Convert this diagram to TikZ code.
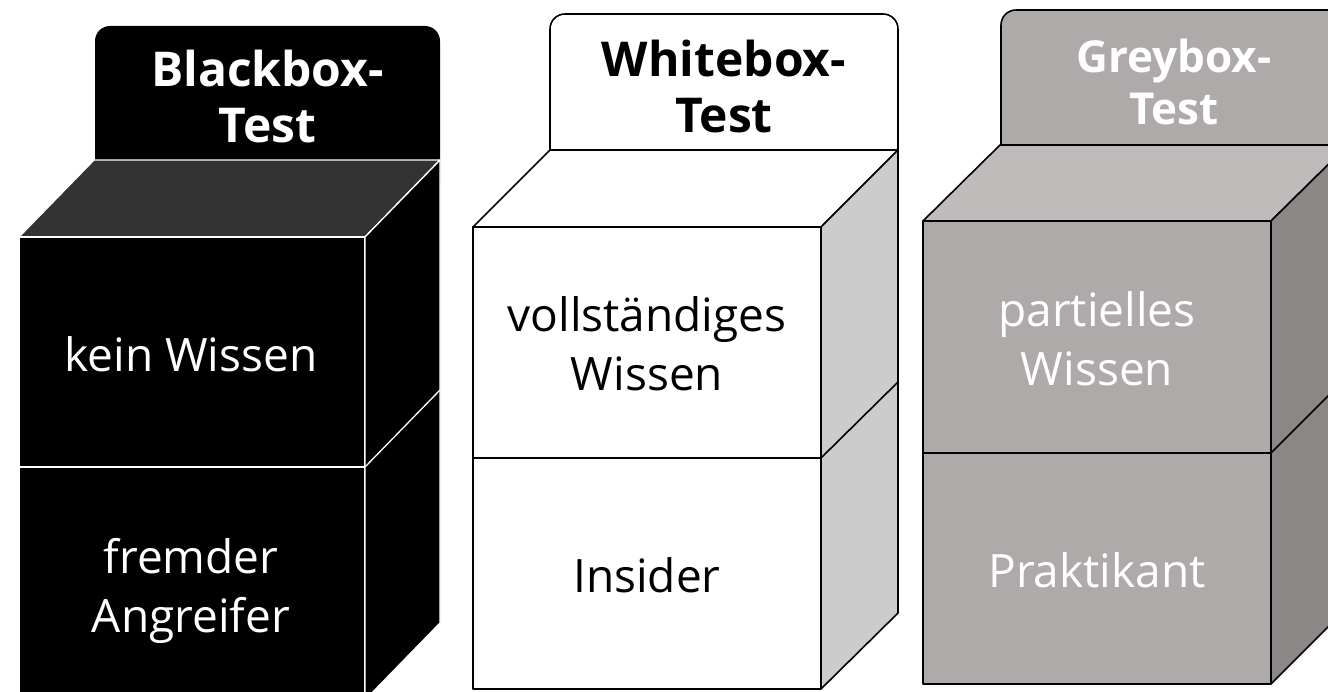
\documentclass[tikz,border=0pt]{standalone}
\usepackage{fontspec}
\setmainfont{Open Sans}
\definecolor{bktop}{HTML}{333333}
\definecolor{whside}{HTML}{CCCCCC}
\definecolor{grfront}{HTML}{AEAAA9}
\definecolor{grtop}{HTML}{BFBBBA}
\definecolor{grside}{HTML}{8B8786}
\begin{document}
\begin{tikzpicture}[x=1pt,y=-1pt,
  bodytext/.style={font=\fontsize{46}{59}\selectfont, align=center, inner sep=0pt},
  headtext/.style={font=\fontsize{48}{56}\selectfont\bfseries, align=center, inner sep=0pt},
  greyhead/.style={font=\fontsize{44}{52}\selectfont\bfseries, align=center, inner sep=0pt},
  bkline/.style={draw=white, line width=1.3pt, line join=round},
  wline/.style={draw=black, line width=1.6pt, line join=round},
  hdr/.style={rounded corners=15pt}]
\useasboundingbox (0,0) rectangle (1328,692);
\clip (0,0) rectangle (1328,692);

% ---------- Blackbox cube ----------
\fill[black, hdr] (95,26) rectangle (440,200);
\filldraw[fill=bktop, bkline] (19,237) -- (94,160) -- (440,160) -- (365,237) -- cycle;
\filldraw[fill=black, bkline] (19,237) rectangle (365,467);
\filldraw[fill=black, bkline] (19,467) rectangle (365,700);
\filldraw[fill=black, bkline] (365,237) -- (440,160) -- (440,623) -- (365,700) -- cycle;
\draw[bkline] (365,467) -- (440,390);
\node[headtext, text=white] (bhead) at (267.5,97) {Blackbox-\\Test};
\node[bodytext, text=white] (bup) at (191,354.5) {kein Wissen};
\node[bodytext, text=white] (blow) at (191,590.5) {fremder\\Angreifer};

% ---------- Whitebox cube ----------
\filldraw[fill=white, wline, hdr] (550,14) rectangle (898,190);
\filldraw[fill=white, wline] (473,227) -- (550,150) -- (898,150) -- (821,227) -- cycle;
\filldraw[fill=white, wline] (473,227) rectangle (821,458);
\filldraw[fill=white, wline] (473,458) rectangle (821,689);
\filldraw[fill=whside, wline] (821,227) -- (898,150) -- (898,613) -- (821,689) -- cycle;
\draw[wline] (821,458) -- (898,382);
\node[headtext, text=black] (whead) at (724,87) {Whitebox-\\Test};
\node[bodytext, text=black] (wup) at (647,344) {vollständiges\\Wissen};
\node[bodytext, text=black] (wlow) at (647,575.5) {Insider};

% ---------- Greybox cube ----------
\filldraw[fill=grfront, wline, hdr] (1001,10) rectangle (1348,185);
\filldraw[fill=grtop, wline] (923,221) -- (1000,145) -- (1348,145) -- (1271,221) -- cycle;
\filldraw[fill=grfront, wline] (923,221) rectangle (1271,453);
\filldraw[fill=grfront, wline] (923,453) rectangle (1271,684);
\filldraw[fill=grside, wline] (1271,221) -- (1348,145) -- (1348,607) -- (1271,684) -- cycle;
\draw[wline] (1271,453) -- (1348,376);
\node[greyhead, text=white] (ghead) at (1174,82) {Greybox-\\Test};
\node[bodytext, text=white] (gup) at (1097,339) {partielles\\Wissen};
\node[bodytext, text=white] (glow) at (1097,570.5) {Praktikant};
\end{tikzpicture}
\end{document}
